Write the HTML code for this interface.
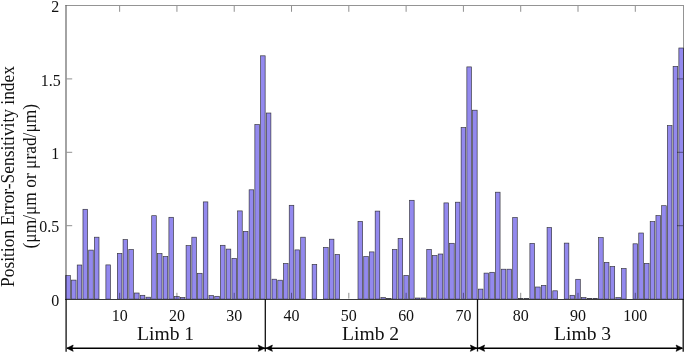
<!DOCTYPE html>
<html><head><meta charset="utf-8"><title>Position Error-Sensitivity index</title>
<style>html,body{margin:0;padding:0;background:#fff;width:685px;height:354px;overflow:hidden}svg{display:block}</style>
</head><body>
<svg width="685" height="354" viewBox="0 0 685 354">
<rect width="685" height="354" fill="#fff"/>
<g fill="#9389ee" stroke="#1a1a1a" stroke-opacity="0.85" stroke-width="0.66"><rect x="65.77" y="275.60" width="4.58" height="23.50"/><rect x="71.50" y="280.10" width="4.58" height="19.00"/><rect x="77.23" y="265.00" width="4.58" height="34.10"/><rect x="82.96" y="209.30" width="4.58" height="89.80"/><rect x="88.69" y="250.10" width="4.58" height="49.00"/><rect x="94.42" y="237.20" width="4.58" height="61.90"/><rect x="105.88" y="264.90" width="4.58" height="34.20"/><rect x="117.34" y="253.40" width="4.58" height="45.70"/><rect x="123.07" y="239.60" width="4.58" height="59.50"/><rect x="128.80" y="249.50" width="4.58" height="49.60"/><rect x="134.53" y="293.00" width="4.58" height="6.10"/><rect x="140.26" y="295.30" width="4.58" height="3.80"/><rect x="145.99" y="297.20" width="4.58" height="1.90"/><rect x="151.71" y="215.70" width="4.58" height="83.40"/><rect x="157.44" y="253.60" width="4.58" height="45.50"/><rect x="163.17" y="256.50" width="4.58" height="42.60"/><rect x="168.90" y="217.30" width="4.58" height="81.80"/><rect x="174.63" y="296.60" width="4.58" height="2.50"/><rect x="180.36" y="297.50" width="4.58" height="1.60"/><rect x="186.09" y="245.60" width="4.58" height="53.50"/><rect x="191.82" y="237.20" width="4.58" height="61.90"/><rect x="197.55" y="273.30" width="4.58" height="25.80"/><rect x="203.28" y="201.90" width="4.58" height="97.20"/><rect x="209.01" y="295.60" width="4.58" height="3.50"/><rect x="214.74" y="296.30" width="4.58" height="2.80"/><rect x="220.47" y="245.30" width="4.58" height="53.80"/><rect x="226.20" y="249.10" width="4.58" height="50.00"/><rect x="231.93" y="258.40" width="4.58" height="40.70"/><rect x="237.66" y="210.90" width="4.58" height="88.20"/><rect x="243.39" y="231.40" width="4.58" height="67.70"/><rect x="249.12" y="189.80" width="4.58" height="109.30"/><rect x="254.85" y="124.50" width="4.58" height="174.60"/><rect x="260.58" y="55.80" width="4.58" height="243.30"/><rect x="266.31" y="113.00" width="4.58" height="186.10"/><rect x="272.04" y="279.20" width="4.58" height="19.90"/><rect x="277.77" y="280.20" width="4.58" height="18.90"/><rect x="283.50" y="263.50" width="4.58" height="35.60"/><rect x="289.23" y="205.30" width="4.58" height="93.80"/><rect x="294.96" y="249.90" width="4.58" height="49.20"/><rect x="300.69" y="237.20" width="4.58" height="61.90"/><rect x="312.15" y="264.40" width="4.58" height="34.70"/><rect x="323.61" y="247.40" width="4.58" height="51.70"/><rect x="329.34" y="239.20" width="4.58" height="59.90"/><rect x="335.07" y="254.50" width="4.58" height="44.60"/><rect x="357.99" y="221.40" width="4.58" height="77.70"/><rect x="363.72" y="256.50" width="4.58" height="42.60"/><rect x="369.45" y="251.90" width="4.58" height="47.20"/><rect x="375.18" y="211.10" width="4.58" height="88.00"/><rect x="380.91" y="297.60" width="4.58" height="1.50"/><rect x="386.64" y="298.50" width="4.58" height="0.60"/><rect x="392.37" y="249.50" width="4.58" height="49.60"/><rect x="398.10" y="238.50" width="4.58" height="60.60"/><rect x="403.83" y="275.40" width="4.58" height="23.70"/><rect x="409.56" y="200.30" width="4.58" height="98.80"/><rect x="415.29" y="298.00" width="4.58" height="1.10"/><rect x="421.02" y="298.00" width="4.58" height="1.10"/><rect x="426.75" y="249.40" width="4.58" height="49.70"/><rect x="432.48" y="255.50" width="4.58" height="43.60"/><rect x="438.20" y="254.00" width="4.58" height="45.10"/><rect x="443.93" y="202.90" width="4.58" height="96.20"/><rect x="449.66" y="243.30" width="4.58" height="55.80"/><rect x="455.39" y="202.20" width="4.58" height="96.90"/><rect x="461.12" y="127.60" width="4.58" height="171.50"/><rect x="466.85" y="66.90" width="4.58" height="232.20"/><rect x="472.58" y="110.20" width="4.58" height="188.90"/><rect x="478.31" y="289.10" width="4.58" height="10.00"/><rect x="484.04" y="273.10" width="4.58" height="26.00"/><rect x="489.77" y="272.30" width="4.58" height="26.80"/><rect x="495.50" y="192.20" width="4.58" height="106.90"/><rect x="501.23" y="269.20" width="4.58" height="29.90"/><rect x="506.96" y="269.20" width="4.58" height="29.90"/><rect x="512.69" y="217.50" width="4.58" height="81.60"/><rect x="518.42" y="298.60" width="4.58" height="0.50"/><rect x="524.15" y="298.60" width="4.58" height="0.50"/><rect x="529.88" y="243.40" width="4.58" height="55.70"/><rect x="535.61" y="287.00" width="4.58" height="12.10"/><rect x="541.34" y="285.40" width="4.58" height="13.70"/><rect x="547.07" y="227.50" width="4.58" height="71.60"/><rect x="552.80" y="290.80" width="4.58" height="8.30"/><rect x="564.26" y="243.10" width="4.58" height="56.00"/><rect x="569.99" y="295.30" width="4.58" height="3.80"/><rect x="575.72" y="279.30" width="4.58" height="19.80"/><rect x="581.45" y="297.60" width="4.58" height="1.50"/><rect x="587.18" y="298.40" width="4.58" height="0.70"/><rect x="592.91" y="298.40" width="4.58" height="0.70"/><rect x="598.64" y="237.60" width="4.58" height="61.50"/><rect x="604.37" y="262.40" width="4.58" height="36.70"/><rect x="610.10" y="266.50" width="4.58" height="32.60"/><rect x="615.83" y="297.60" width="4.58" height="1.50"/><rect x="621.56" y="268.50" width="4.58" height="30.60"/><rect x="633.02" y="243.80" width="4.58" height="55.30"/><rect x="638.75" y="233.00" width="4.58" height="66.10"/><rect x="644.48" y="263.40" width="4.58" height="35.70"/><rect x="650.21" y="221.60" width="4.58" height="77.50"/><rect x="655.94" y="215.60" width="4.58" height="83.50"/><rect x="661.67" y="205.70" width="4.58" height="93.40"/><rect x="667.40" y="125.60" width="4.58" height="173.50"/><rect x="673.13" y="66.40" width="4.58" height="232.70"/><rect x="678.86" y="48.00" width="4.58" height="251.10"/></g>
<path d="M66.0,299.1 V5.5" fill="none" stroke="#000" stroke-opacity="0.45" stroke-width="1.6"/><path d="M65.2,5.5 H683" fill="none" stroke="#000" stroke-opacity="0.42" stroke-width="1"/><path d="M683.5,5 V299.1" fill="none" stroke="#000" stroke-opacity="0.42" stroke-width="1"/>
<line x1="65" y1="299.45" x2="684" y2="299.45" stroke="#3a3a3a" stroke-width="1.1"/>
<path d="M119.63,6 v5.8 M119.63,298.6 v-5.8 M176.93,6 v5.8 M176.93,298.6 v-5.8 M234.22,6 v5.8 M234.22,298.6 v-5.8 M291.52,6 v5.8 M291.52,298.6 v-5.8 M348.82,6 v5.8 M348.82,298.6 v-5.8 M406.12,6 v5.8 M406.12,298.6 v-5.8 M463.42,6 v5.8 M463.42,298.6 v-5.8 M520.71,6 v5.8 M520.71,298.6 v-5.8 M578.01,6 v5.8 M578.01,298.6 v-5.8 M635.31,6 v5.8 M635.31,298.6 v-5.8 M66.8,225.70 h5.4 M683,225.70 h-6 M66.8,152.30 h5.4 M683,152.30 h-6 M66.8,78.90 h5.4 M683,78.90 h-6" stroke="#000" stroke-opacity="0.44" stroke-width="1" fill="none"/>
<g font-family="Liberation Serif, serif" font-size="16" fill="#111"><text transform="translate(119.63,320.6) scale(1,1.06)" text-anchor="middle">10</text><text transform="translate(176.93,320.6) scale(1,1.06)" text-anchor="middle">20</text><text transform="translate(234.22,320.6) scale(1,1.06)" text-anchor="middle">30</text><text transform="translate(291.52,320.6) scale(1,1.06)" text-anchor="middle">40</text><text transform="translate(348.82,320.6) scale(1,1.06)" text-anchor="middle">50</text><text transform="translate(406.12,320.6) scale(1,1.06)" text-anchor="middle">60</text><text transform="translate(463.42,320.6) scale(1,1.06)" text-anchor="middle">70</text><text transform="translate(520.71,320.6) scale(1,1.06)" text-anchor="middle">80</text><text transform="translate(578.01,320.6) scale(1,1.06)" text-anchor="middle">90</text><text transform="translate(635.31,320.6) scale(1,1.06)" text-anchor="middle">100</text><text transform="translate(59.30,305.50) scale(1,1.06)" text-anchor="end">0</text><text transform="translate(59.30,232.30) scale(1,1.06)" text-anchor="end">0.5</text><text transform="translate(59.30,159.40) scale(1,1.06)" text-anchor="end">1</text><text transform="translate(60.80,86.00) scale(1,1.06)" text-anchor="end">1.5</text><text transform="translate(59.30,11.90) scale(1,1.06)" text-anchor="end">2</text></g>
<g font-family="Liberation Serif, serif" font-size="17.4" fill="#111" text-anchor="middle"><text transform="translate(14,176.5) rotate(-90) scale(1,1.09)">Position Error-Sensitivity index</text><text transform="translate(35.9,176.2) rotate(-90) scale(1,1.09)">(μm/μm or μrad/μm)</text></g>
<path d="M66.1,299.1 V351.7 M265.3,299.1 V351.5 M477.5,299.1 V351.5 M683.2,299.1 V351.7" stroke="#111" stroke-width="1.3" fill="none"/><path d="M67.1,348.2 H682.2" stroke="#000" stroke-width="1.4" fill="none"/><path d="M66.80,348.2 L73.20,345.05 L72.10,348.2 L73.20,351.35 Z M264.60,348.2 L258.20,345.05 L259.30,348.2 L258.20,351.35 Z M266.00,348.2 L272.40,345.05 L271.30,348.2 L272.40,351.35 Z M476.80,348.2 L470.40,345.05 L471.50,348.2 L470.40,351.35 Z M478.20,348.2 L484.60,345.05 L483.50,348.2 L484.60,351.35 Z M682.50,348.2 L676.10,345.05 L677.20,348.2 L676.10,351.35 Z" fill="#000" stroke="#000" stroke-width="0.6" stroke-linejoin="round"/><g font-family="Liberation Serif, serif" font-size="19.6" fill="#111"><text x="137.0" y="339.9">Limb 1</text><text x="342.0" y="339.9">Limb 2</text><text x="554.0" y="339.9">Limb 3</text></g>
</svg>
</body></html>
